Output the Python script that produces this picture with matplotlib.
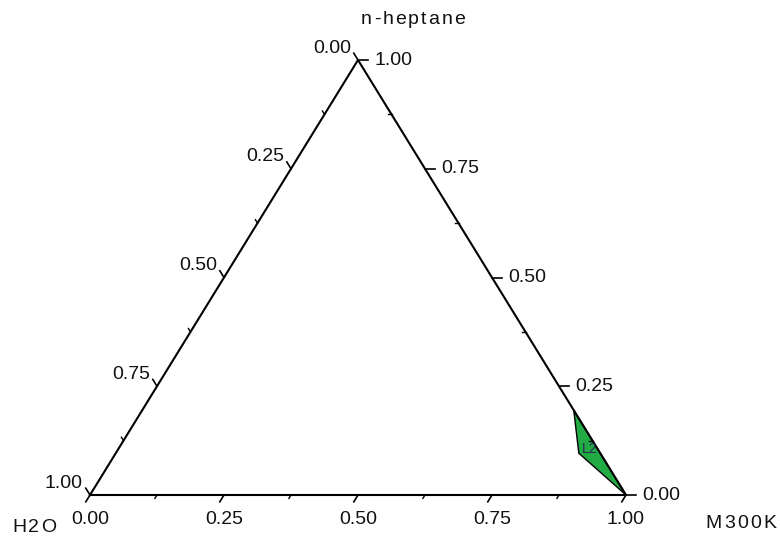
"""
Ternary phase diagram: H2O / M300K / n-heptane, with the L2 region.
"""

import numpy as np
import matplotlib.pyplot as plt

# tick values along each side (fractions)
major_ticks = [0.0, 0.25, 0.50, 0.75, 1.0]
minor_ticks = [0.125, 0.375, 0.625, 0.875]
tick_labels = ["0.00", "0.25", "0.50", "0.75", "1.00"]

# L2 region vertices as (H2O, M300K, n-heptane) fractions
region_h2o = [0.000, 0.040, 0.000]
region_m300k = [0.805, 0.864, 1.000]
region_heptane = [0.195, 0.096, 0.000]
region_name = "L2"

components = ["H2O", "M300K", "n-heptane"]

# axes size in pixels (figure is 780x546 at dpi 100)
W, H = 536.0, 435.0

plt.rcParams["font.family"] = ["Liberation Sans", "DejaVu Sans"]

fig = plt.figure(figsize=(7.8, 5.46), dpi=100)
ax = fig.add_axes([90 / 780, 51 / 546, W / 780, H / 546])
ax.set_xlim(0, 1)
ax.set_ylim(0, 1)
ax.axis("off")


def to_xy(m300k, heptane):
    """Ternary fractions -> cartesian data coords."""
    m300k = np.asarray(m300k, dtype=float)
    heptane = np.asarray(heptane, dtype=float)
    return m300k + heptane / 2.0, heptane


def px(dx, dy):
    """Pixel offset -> data offset."""
    return dx / W, dy / H


# triangle outline
corners_m = [0.0, 1.0, 0.0, 0.0]
corners_h = [0.0, 0.0, 1.0, 0.0]
cx, cy = to_xy(corners_m, corners_h)
ax.plot(cx, cy, color="black", lw=1.5, clip_on=False, zorder=3)

# L2 region
rx, ry = to_xy(region_m300k, region_heptane)
ax.fill(rx, ry, facecolor="#22aa44", edgecolor="black", lw=1.0, zorder=2, clip_on=False)
ax.annotate(region_name, (rx.mean(), ry.mean()), xytext=(-3, 4), textcoords="offset pixels",
            ha="center", va="center", fontsize=10, color="#2a2a55", zorder=4)

# tick directions in pixels (right, up)
edge = np.hypot(268, 435)
dir_bottom = (-268 / edge, -435 / edge)   # down-left
dir_right = (1.0, 0.0)                    # right
dir_left = (-268 / edge, 435 / edge)      # up-left


def draw_tick(x, y, d, length, lw=1.2):
    ox, oy = px(d[0] * length, d[1] * length)
    ax.plot([x, x + ox], [y, y + oy], color="black", lw=lw, clip_on=False, zorder=3)


tick_font = dict(fontsize=14, color="#111111")

for v, lab in zip(major_ticks, tick_labels):
    # bottom side: M300K fraction
    x, y = to_xy(v, 0.0)
    draw_tick(x, y, dir_bottom, 8)
    ax.annotate(lab, (x, y), xytext=(0, -25), textcoords="offset pixels",
                ha="center", va="center", **tick_font)
    # right side: n-heptane fraction
    x, y = to_xy(1 - v, v)
    draw_tick(x, y, dir_right, 10)
    ax.annotate(lab, (x, y), xytext=(16, 0), textcoords="offset pixels",
                ha="left", va="center", **tick_font)
    # left side: H2O fraction
    x, y = to_xy(0.0, 1 - v)
    draw_tick(x, y, dir_left, 8)
    ax.annotate(lab, (x, y), xytext=(-7, 12), textcoords="offset pixels",
                ha="right", va="center", **tick_font)

for v in minor_ticks:
    x, y = to_xy(v, 0.0)
    draw_tick(x, y, dir_bottom, 4, lw=1.0)
    x, y = to_xy(1 - v, v)
    draw_tick(x, y, (-dir_right[0], 0), 4, lw=1.0)
    x, y = to_xy(0.0, 1 - v)
    draw_tick(x, y, dir_left, 4, lw=1.0)


def tracked_label(xy, s, offset, tracking=2.3, fontsize=14):
    """Letter-spaced label centred at xy + offset (pixels)."""
    r = fig.canvas.get_renderer()
    widths = []
    for ch in s:
        t = ax.text(0, 0, ch, fontsize=fontsize)
        widths.append(t.get_window_extent(r).width)
        t.remove()
    total = sum(widths) + tracking * (len(s) - 1)
    pos = offset[0] - total / 2.0
    for ch, w in zip(s, widths):
        ax.annotate(ch, xy, xytext=(pos, offset[1]), textcoords="offset pixels",
                    ha="left", va="center", fontsize=fontsize, color="#111111")
        pos += w + tracking


# component labels at the corners
tracked_label(to_xy(0.0, 0.0), components[0], (-56, -33), tracking=2.0)
tracked_label(to_xy(1.0, 0.0), components[1], (115, -28))
tracked_label(to_xy(0.0, 1.0), components[2], (55, 41), tracking=2.0)

plt.savefig("out.png", dpi=100)
